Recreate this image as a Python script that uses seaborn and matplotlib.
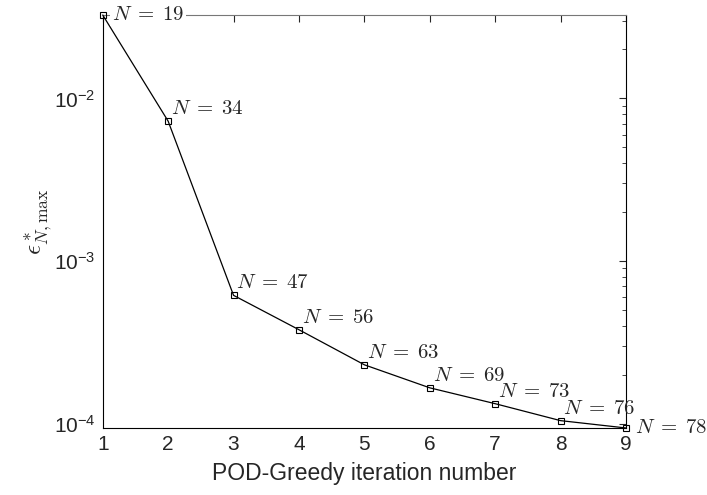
import matplotlib
matplotlib.use("Agg")
import matplotlib.pyplot as plt
import numpy as np
import pandas as pd
import seaborn as sns
from matplotlib.ticker import LogLocator, NullFormatter

# values
iterations = [1, 2, 3, 4, 5, 6, 7, 8, 9]
err_max = [3.26e-2, 7.25e-3, 6.15e-4, 3.78e-4, 2.30e-4, 1.66e-4, 1.326e-4, 1.043e-4, 9.4e-5]
basis_size = [19, 34, 47, 56, 63, 69, 73, 76, 78]

df = pd.DataFrame({'iteration': iterations, 'err': err_max, 'N': basis_size})

sns.set_style('white')
plt.rcParams['font.family'] = ['Liberation Sans', 'DejaVu Sans']
plt.rcParams['mathtext.fontset'] = 'cm'

fig = plt.figure(figsize=(7.07, 4.95), dpi=100)
ax = fig.add_axes([0.1453, 0.1354, 0.8854 - 0.1453, 0.9697 - 0.1354])

sns.lineplot(data=df, x='iteration', y='err', ax=ax, color='black', linewidth=0.9,
             marker='s', markersize=5, markerfacecolor='none', markeredgecolor='black',
             markeredgewidth=0.8, clip_on=False, zorder=4)

ax.set_yscale('log')
ax.set_xlim(1, 9)
ax.set_ylim(min(err_max), max(err_max))
ax.set_xticks(iterations)
ax.yaxis.set_major_locator(LogLocator(base=10))
ax.yaxis.set_minor_locator(LogLocator(base=10, subs=np.arange(2, 10)))
ax.yaxis.set_minor_formatter(NullFormatter())

ax.tick_params(which='both', direction='in', top=True, right=True, labelsize=15, pad=5)
ax.tick_params(which='major', length=5, width=0.8)
ax.tick_params(which='minor', length=3, width=0.6)
for side, sp in ax.spines.items():
    sp.set_linewidth(0.8)
    sp.set_color('black')
ax.spines['top'].set_color('#777777')

ax.set_xlabel('POD-Greedy iteration number', fontsize=16.5, labelpad=6)
ax.set_ylabel(r'$\epsilon^*_{N,\max}$', fontsize=18, labelpad=0)

# labels next to every point
last = len(iterations) - 1
for i, (x, y, n) in enumerate(zip(iterations, err_max, basis_size)):
    if i == 0 or i == last:
        off = (6.5, 0)
    else:
        off = (2, 9)
    t = ax.annotate(rf'$N\;=\;{n}$', (x, y), xytext=off, textcoords='offset points',
                    ha='left', va='center', fontsize=15, annotation_clip=False, zorder=5)
    if i == 0:
        t.set_bbox(dict(facecolor='white', edgecolor='none', pad=1))

ax.grid(False)
fig.savefig('out.png', dpi=100)
